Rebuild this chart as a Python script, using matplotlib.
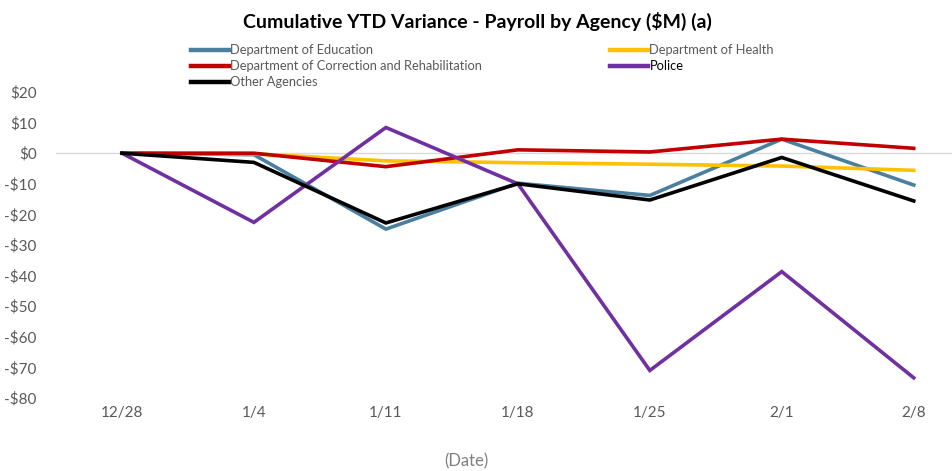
import matplotlib
matplotlib.use('Agg')
import matplotlib.pyplot as plt
from matplotlib.lines import Line2D
from matplotlib.ticker import FuncFormatter

plt.rcParams['font.family'] = ['Lato', 'DejaVu Sans']

# data ($M)
dates = ['12/28', '1/4', '1/11', '1/18', '1/25', '2/1', '2/8']
education = [0, -0.5, -24.8, -9.8, -13.8, 4.6, -10.4]
health = [0, -0.2, -2.5, -3.1, -3.6, -4.2, -5.6]
correction = [0, 0, -4.4, 1.1, 0.4, 4.6, 1.6]
police = [0, -22.6, 8.4, -10.0, -71.0, -38.7, -73.4]
other = [0, -3.0, -22.8, -10.0, -15.3, -1.4, -15.6]

names = ['Department of Education', 'Department of Health',
         'Department of Correction and Rehabilitation', 'Police', 'Other Agencies']
series = [education, health, correction, police, other]
colors = ['#4A7FA0', '#FFC000', '#C00000', '#7030A0', '#000000']

grey = '#595959'

fig = plt.figure(figsize=(9.52, 4.71), dpi=100)
ax = fig.add_axes([56 / 952, 1 - 398 / 471, 1 - 56 / 952, (398 - 92) / 471])

x = range(len(dates))
ax.axhline(0, color='#D9D9D9', lw=1, zorder=1)
for vals, c in zip(series, colors):
    ax.plot(x, vals, color=c, lw=2.6, solid_joinstyle='miter', zorder=3)

ax.set_xlim(-0.5, 6.29)
ax.set_ylim(-80, 20)
ax.set_yticks(range(-80, 21, 10))
ax.yaxis.set_major_formatter(FuncFormatter(lambda v, p: ('-$%d' % abs(v)) if v < 0 else '$%d' % v))
ax.set_xticks(list(x))
ax.set_xticklabels(dates)
ax.tick_params(length=0, labelsize=11, colors=grey, pad=6)
ax.tick_params(axis='y', pad=14)
for s in ax.spines.values():
    s.set_visible(False)

fig.text(466 / 952, 1 - 461 / 471, '(Date)', ha='center', va='center', fontsize=12, color='#7F7F7F')
fig.text(477 / 952, 1 - 21 / 471, 'Cumulative YTD Variance - Payroll by Agency ($M) (a)',
         ha='center', va='center', fontsize=14, fontweight='bold', color='black')

# legend built as two columns
def handles(idx):
    return [Line2D([], [], color=colors[i], lw=3.2) for i in idx]

left = [0, 2, 4]
right = [1, 3]
kw = dict(loc='upper left', frameon=False, fontsize=9.3, handlelength=2.9,
          handletextpad=0.12, borderpad=0, labelspacing=0.3, labelcolor=grey)
leg1 = fig.legend(handles(left), [names[i] for i in left],
                  bbox_to_anchor=(185 / 952, 1 - 38 / 471), **kw)
leg2 = fig.legend(handles(right), [names[i] for i in right],
                  bbox_to_anchor=(604 / 952, 1 - 38 / 471), **kw)
leg2.get_texts()[1].set_color('black')

fig.savefig('out.png', dpi=100)
